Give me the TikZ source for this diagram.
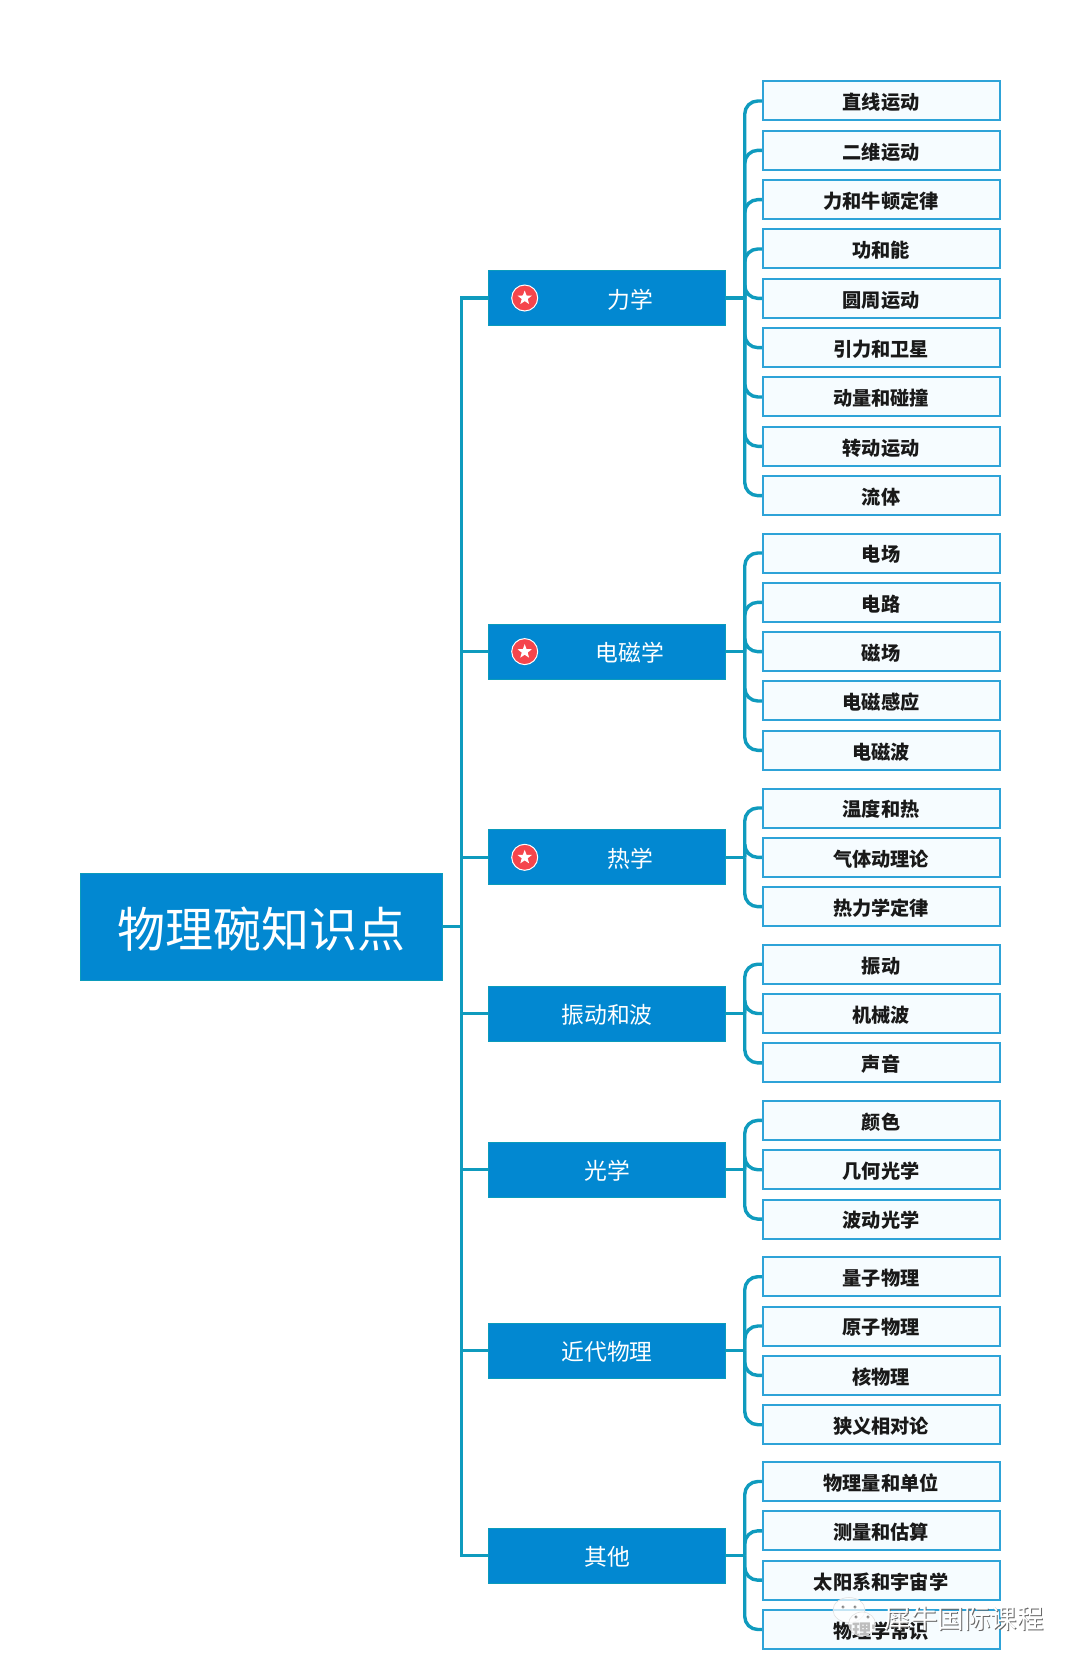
\documentclass[tikz,border=0pt]{standalone}
\usepackage{fontspec}
\setmainfont{Noto Sans CJK SC}
\usetikzlibrary{shapes.geometric}
\definecolor{mainfill}{HTML}{0288D1}
\definecolor{mainedge}{HTML}{0B9BBB}
\definecolor{connc}{HTML}{0F9BBE}
\definecolor{leaffill}{HTML}{F6FCFF}
\definecolor{leafedge}{HTML}{2EA3D8}
\definecolor{starred}{HTML}{F5454C}
\tikzset{
  leaf/.style={draw=leafedge,fill=leaffill,line width=2pt,minimum width=237pt,minimum height=39pt,inner sep=0pt,text height=18.2pt,text depth=0.4pt,font=\fontsize{19.2}{19.2}\selectfont\bfseries,text=black!90,anchor=center},
  mainbox/.style={draw=mainedge,fill=mainfill,line width=1pt,minimum width=237.5pt,minimum height=55pt,inner sep=0pt,anchor=center},
  maintxt/.style={font=\fontsize{22.8}{22.8}\selectfont,text=white,inner sep=0pt},
  rootbox/.style={draw=mainedge,fill=mainfill,line width=1pt,minimum width=362pt,minimum height=107pt,inner sep=0pt,text height=42pt,text depth=0pt,font=\fontsize{48}{48}\selectfont,text=white},
  conn/.style={draw=connc,line width=3.4pt},
  bracket/.style={draw=connc,line width=3.4pt,rounded corners=13pt},
  starbadge/.style={circle,draw=white,fill=starred,line width=1pt,minimum size=26pt,inner sep=0pt},
  starmark/.style={star,star points=5,star point ratio=2.4,fill=white,minimum size=15pt,inner sep=0pt},
  wmtxt/.style={font=\fontsize{26.5}{26.5}\selectfont,text=white,inner sep=0pt},
  wmshadow/.style={font=\fontsize{26.5}{26.5}\selectfont,text=black!60,inner sep=0pt},
  wmbubble/.style={ellipse,draw=black!12,fill=white,fill opacity=.72,line width=.6pt,inner sep=0pt}
}
\newcommand{\branch}[3]{%
  \coordinate (#1s) at ([xshift=18.5pt]#1.east);
  \draw[conn] (#1.east) -- (#1s);
  \foreach \t [count=\i from 0] in {#3} {
    \pgfmathsetmacro{\yy}{#2+49.33*\i}
    \draw[bracket] (#1s) |- (762,\yy);
    \node[leaf] (#1l\i) at (881,\yy) {\t};
  }
}
\begin{document}
\begin{tikzpicture}[x=1pt,y=-1pt]
\useasboundingbox (0,0) rectangle (1080,1667);
\fill[white] (0,0) rectangle (1080,1667);
\node[rootbox] (root) at (261,926.7) {物理碗知识点};
\coordinate (sp) at (461.5,926.7);
\foreach \n/\y in {m1/298,m2/651.6,m3/857.3,m4/1013.5,m5/1169.7,m6/1350.7,m7/1555.5}{
  \node[mainbox] (\n) at (607,\y) {};
}
\draw[conn] (root.east) -- (sp);
\draw[conn] (m1.west) -| (sp) |- (m7.west);
\foreach \n in {m2,m3,m4,m5,m6}{ \draw[conn] (sp |- \n.west) -- (\n.west); }
\node[maintxt] (t1) at (630,299.5) {力学};
\node[maintxt] (t2) at (630,653) {电磁学};
\node[maintxt] (t3) at (630,858.8) {热学};
\node[maintxt] (t4) at (607,1014.5) {振动和波};
\node[maintxt] (t5) at (607,1170.7) {光学};
\node[maintxt] (t6) at (607,1351.7) {近代物理};
\node[maintxt] (t7) at (607,1556.5) {其他};
\foreach \n/\y in {b1/298,b2/651.6,b3/857.3}{
  \node[starbadge] (\n) at (524.7,\y) {};
  \node[starmark] (\n s) at (524.7,\y) {};
}
\branch{m1}{101}{直线运动,二维运动,力和牛顿定律,功和能,圆周运动,引力和卫星,动量和碰撞,转动运动,流体}
\branch{m2}{553}{电场,电路,磁场,电磁感应,电磁波}
\branch{m3}{808}{温度和热,气体动理论,热力学定律}
\branch{m4}{964.2}{振动,机械波,声音}
\branch{m5}{1120.4}{颜色,几何光学,波动光学}
\branch{m6}{1276.7}{量子物理,原子物理,核物理,狭义相对论}
\branch{m7}{1481.5}{物理量和单位,测量和估算,太阳系和宇宙学,物理学常识}
% watermark
\node[wmbubble,minimum width=32pt,minimum height=25pt] (w1) at (849,1610) {};
\node[wmbubble,minimum width=27pt,minimum height=24pt] (w2) at (862,1624) {};
\foreach \x/\y in {843/1607,855/1607,856/1617,868/1617}{ \draw[black!55,line width=.6pt] (\x,\y) circle (1.2pt); }
\node[wmshadow] (ws) at (965,1619) {犀牛国际课程};
\node[wmtxt] (wt) at (964,1618) {犀牛国际课程};
\end{tikzpicture}
\end{document}
